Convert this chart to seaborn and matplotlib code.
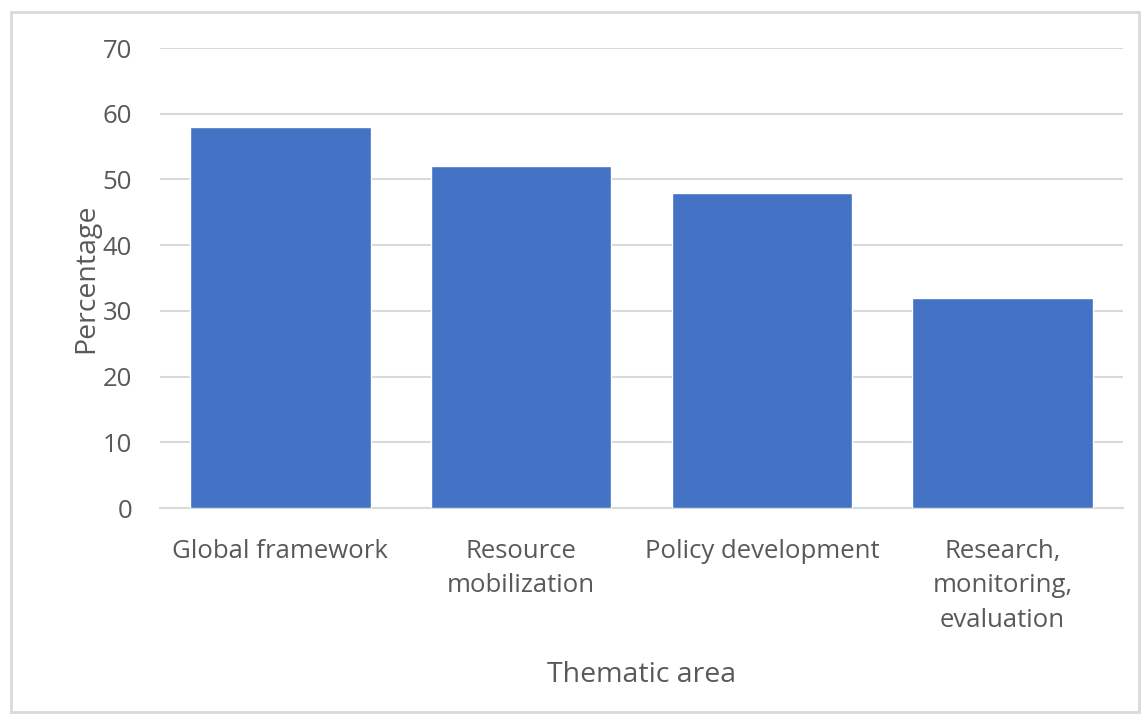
import seaborn as sns
from matplotlib import pyplot as plt
from matplotlib.patches import Rectangle
import pandas as pd

categories = ["Global framework", "Resource\nmobilization", "Policy development",
              "Research,\nmonitoring,\nevaluation"]
percentages = [58, 52, 48, 32]
y_ticks = [0, 10, 20, 30, 40, 50, 60, 70]

BAR_COLOR = "#4472C4"
TEXT_COLOR = "#595959"
GRID_COLOR = "#d9d9d9"

sns.set_theme(style="white")
plt.rcParams['font.family'] = ['Open Sans', 'DejaVu Sans']

df = pd.DataFrame({"Thematic area": categories, "Percentage": percentages})

fig = plt.figure(figsize=(11.47, 7.21), dpi=100)
ax = fig.add_axes([160 / 1147, 1 - 508 / 721, 963 / 1147, 460 / 721])

sns.barplot(data=df, x="Thematic area", y="Percentage", color=BAR_COLOR,
            width=0.75, saturation=1, ax=ax, zorder=3)

ax.set_ylim(0, 70)
ax.set_yticks(y_ticks)
ax.set_xlim(-0.5, len(categories) - 0.5)
ax.yaxis.grid(True, color=GRID_COLOR, linewidth=1.5, zorder=0)
ax.set_axisbelow(True)
for side in ["top", "right", "left"]:
    ax.spines[side].set_visible(False)
ax.spines["bottom"].set_color(GRID_COLOR)
ax.spines["bottom"].set_linewidth(1.5)

ax.tick_params(axis="both", length=0, labelsize=18.5, colors=TEXT_COLOR)
ax.tick_params(axis="y", pad=20)
ax.tick_params(axis="x", pad=22)
for lbl in ax.get_xticklabels():
    lbl.set_linespacing(1.52)

ax.set_xlabel("Thematic area", fontsize=20.5, color=TEXT_COLOR, labelpad=20)
ax.set_ylabel("Percentage", fontsize=20.5, color=TEXT_COLOR, labelpad=2)

# light frame around the chart area
fig.patches.append(Rectangle((11 / 1147, 1 - 712 / 721), 1128 / 1147, 700 / 721,
                             transform=fig.transFigure, fill=False,
                             edgecolor=GRID_COLOR, linewidth=2))

fig.savefig("out.png", dpi=100)
